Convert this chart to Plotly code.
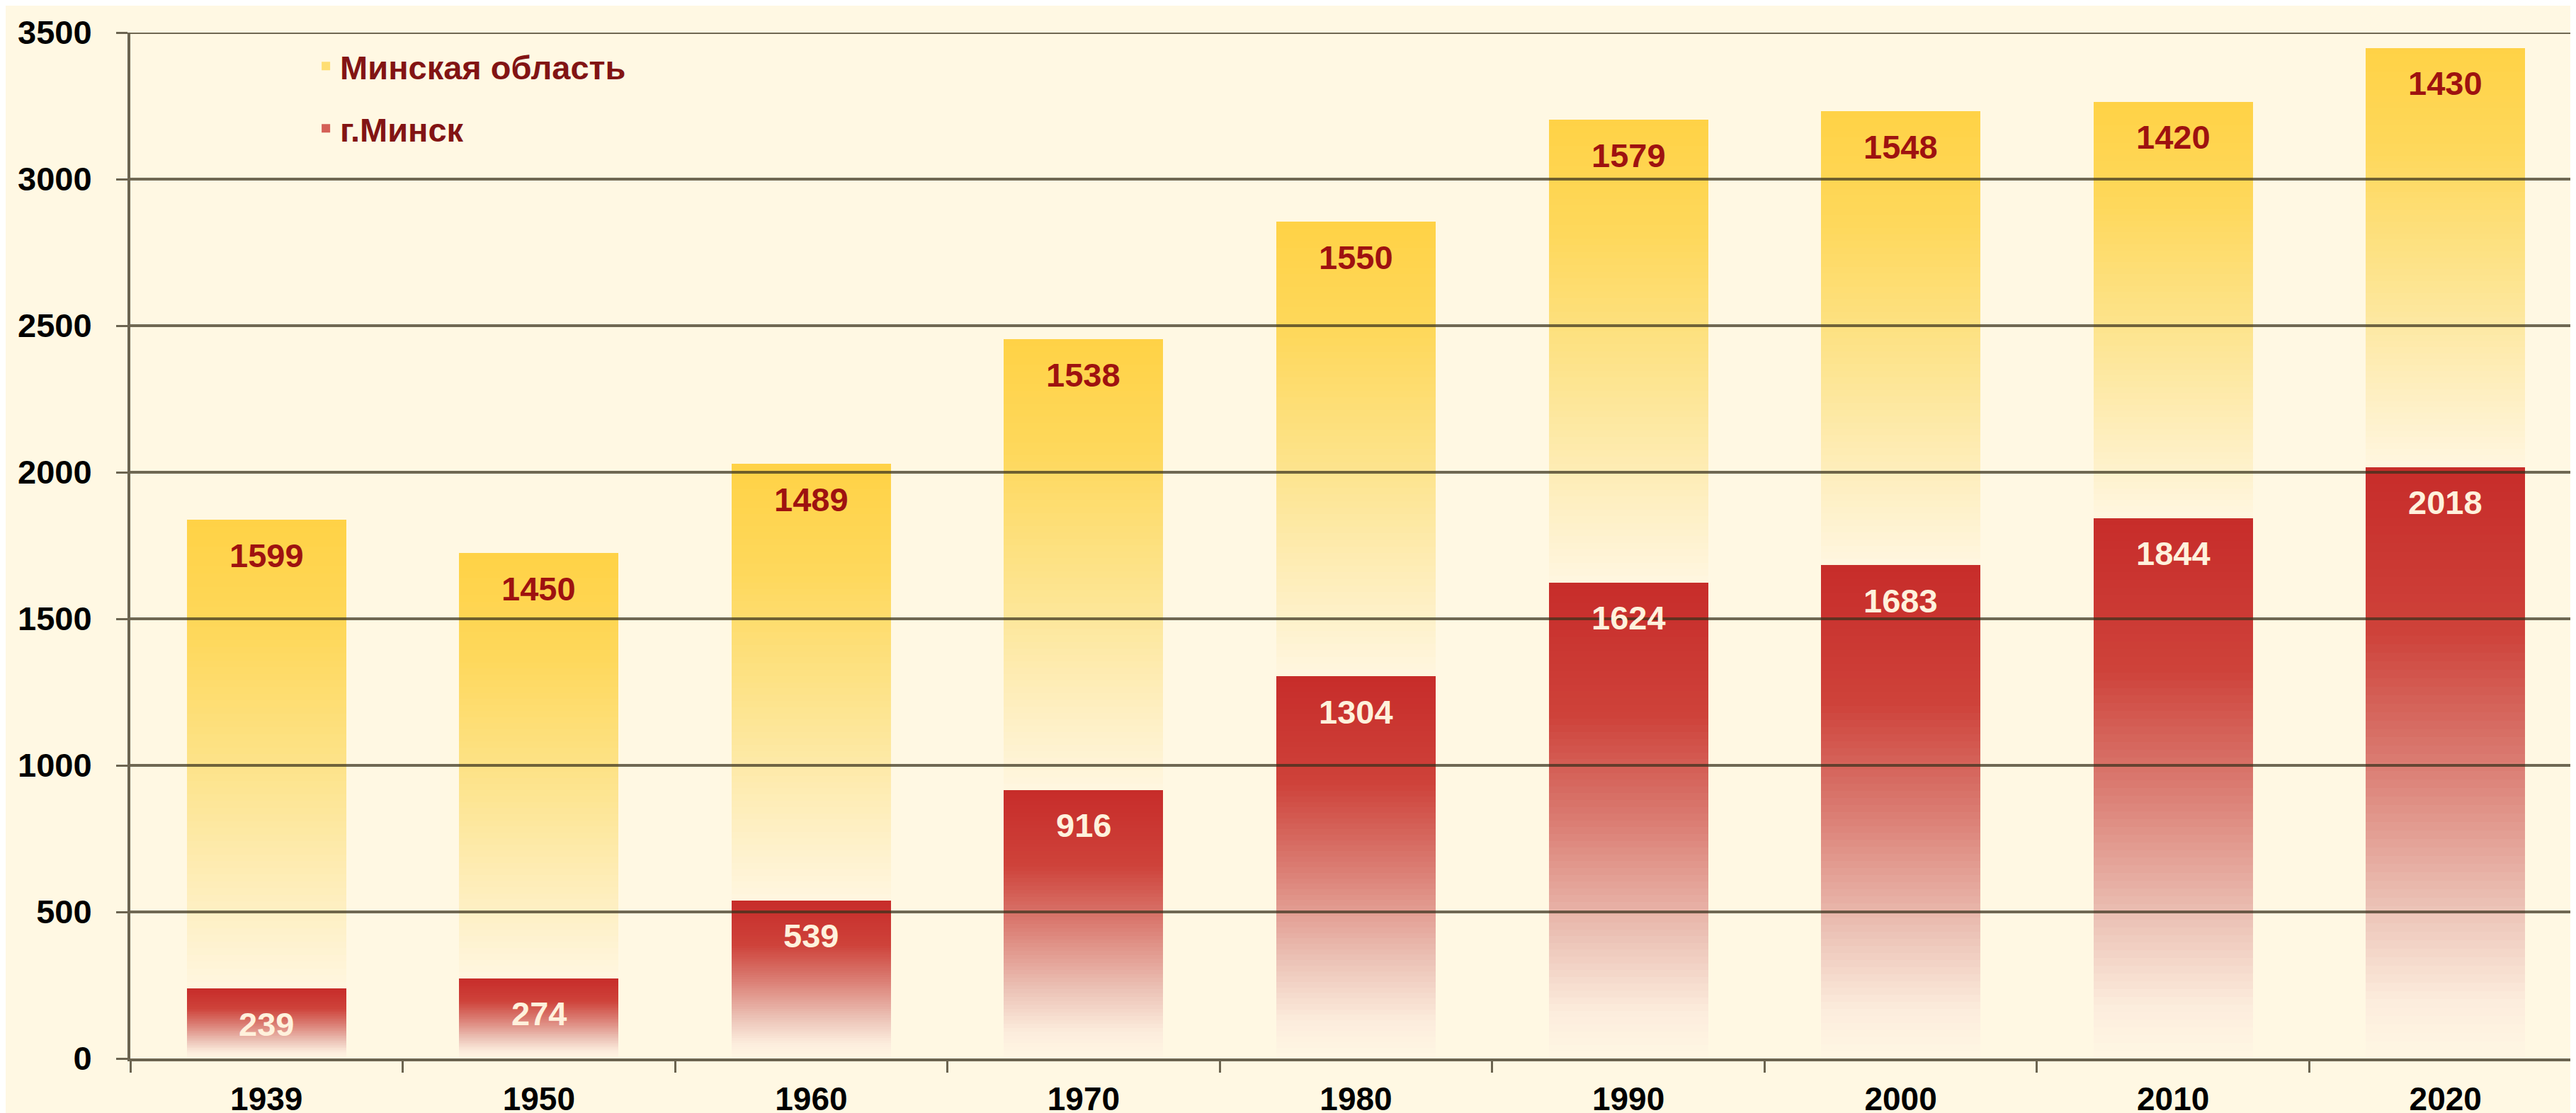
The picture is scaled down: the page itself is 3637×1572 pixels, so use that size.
import plotly.graph_objects as go

# ---------------- data ----------------
years = ["1939", "1950", "1960", "1970", "1980", "1990", "2000", "2010", "2020"]
minsk_city = [239, 274, 539, 916, 1304, 1624, 1683, 1844, 2018]
minsk_region = [1599, 1450, 1489, 1538, 1550, 1579, 1548, 1420, 1430]
y_ticks = [0, 500, 1000, 1500, 2000, 2500, 3000, 3500]

name_region = "Минская область"
name_city = "г.Минск"

# ---------------- style ----------------
BG = "#FFF8E3"
GRID = "rgba(55,48,28,0.72)"
AXIS = "#6B6450"
K = 70  # gradient slices per bar

# gradient stops: (fraction of bar height from bottom, rgb)
red_stops = [(0.0, (255, 247, 228)), (0.10, (252, 236, 220)), (0.25, (236, 196, 184)),
             (0.50, (218, 124, 114)), (0.72, (206, 66, 58)), (1.0, (199, 44, 42))]
yel_stops = [(0.0, (255, 246, 224)), (0.15, (254, 240, 198)), (0.45, (253, 228, 142)),
             (0.75, (254, 216, 92)), (1.0, (255, 210, 70))]


def interp(stops, f):
    for (f0, c0), (f1, c1) in zip(stops[:-1], stops[1:]):
        if f0 <= f <= f1:
            t = (f - f0) / (f1 - f0)
            c = [round(a + (b - a) * t) for a, b in zip(c0, c1)]
            return f"rgb({c[0]},{c[1]},{c[2]})"
    c = stops[-1][1]
    return f"rgb({c[0]},{c[1]},{c[2]})"


fig = go.Figure()


def add_series(values, stops, name, group, rank):
    legend_idx = int(0.6 * K)
    for k in range(K):
        f = (k + 0.5) / K
        fig.add_trace(go.Bar(
            x=years,
            y=[v / K for v in values],
            marker=dict(color=interp(stops, f), line=dict(width=0)),
            name=name,
            legendgroup=group,
            legendrank=rank,
            showlegend=(k == legend_idx),
            hoverinfo="skip",
        ))


add_series(minsk_city, red_stops, name_city, "city", 2)
add_series(minsk_region, yel_stops, name_region, "region", 1)

LABEL_OFFSET = 121
LABEL_FONT = "Liberation Sans"
annotations = []
for i, (c, r) in enumerate(zip(minsk_city, minsk_region)):
    annotations.append(dict(x=i, xref="x", yref="y", y=c + r - LABEL_OFFSET,
                            text=str(r), showarrow=False,
                            font=dict(family=LABEL_FONT, size=47, color="#9E1210", weight="bold"),
                            xanchor="center", yanchor="middle"))
    annotations.append(dict(x=i, xref="x", yref="y", y=c - LABEL_OFFSET,
                            text=str(c), showarrow=False,
                            font=dict(family=LABEL_FONT, size=47, color="#FFF1DC", weight="bold"),
                            xanchor="center", yanchor="middle"))

shapes = [dict(type="line", xref="paper", x0=0, x1=1, yref="y", y0=t, y1=t,
               line=dict(color=GRID, width=4), layer="above")
          for t in y_ticks[1:]]

fig.update_layout(
    barmode="stack",
    bargap=0.415,
    width=3637, height=1572,
    margin=dict(l=176, r=0, t=38, b=85),
    paper_bgcolor=BG, plot_bgcolor=BG,
    font=dict(family="Liberation Sans", color="black"),
    showlegend=True,
    legend=dict(x=0.074, y=0.993, xanchor="left", yanchor="top",
                bgcolor="rgba(0,0,0,0)", traceorder="grouped", tracegroupgap=24,
                font=dict(family="Liberation Sans", size=47, color="#821414", weight="bold"),
                itemclick=False),
    annotations=annotations,
    shapes=shapes,
    xaxis=dict(type="category", range=[-0.5, 8.5], showgrid=False,
               showline=True, linecolor=AXIS, linewidth=4,
               ticks="outside", tickson="boundaries", ticklen=16, tickwidth=3,
               tickcolor=AXIS, ticklabelstandoff=14,
               tickfont=dict(family="Liberation Sans", size=46, color="black", weight="bold")),
    yaxis=dict(range=[0, 3500], tickvals=y_ticks, showgrid=False, zeroline=False,
               showline=True, linecolor=AXIS, linewidth=4,
               ticks="outside", ticklen=16, tickwidth=3, tickcolor=AXIS,
               ticklabelstandoff=25,
               tickfont=dict(family="Liberation Sans", size=47, color="black", weight="bold")),
)

fig.write_html("out.html")
